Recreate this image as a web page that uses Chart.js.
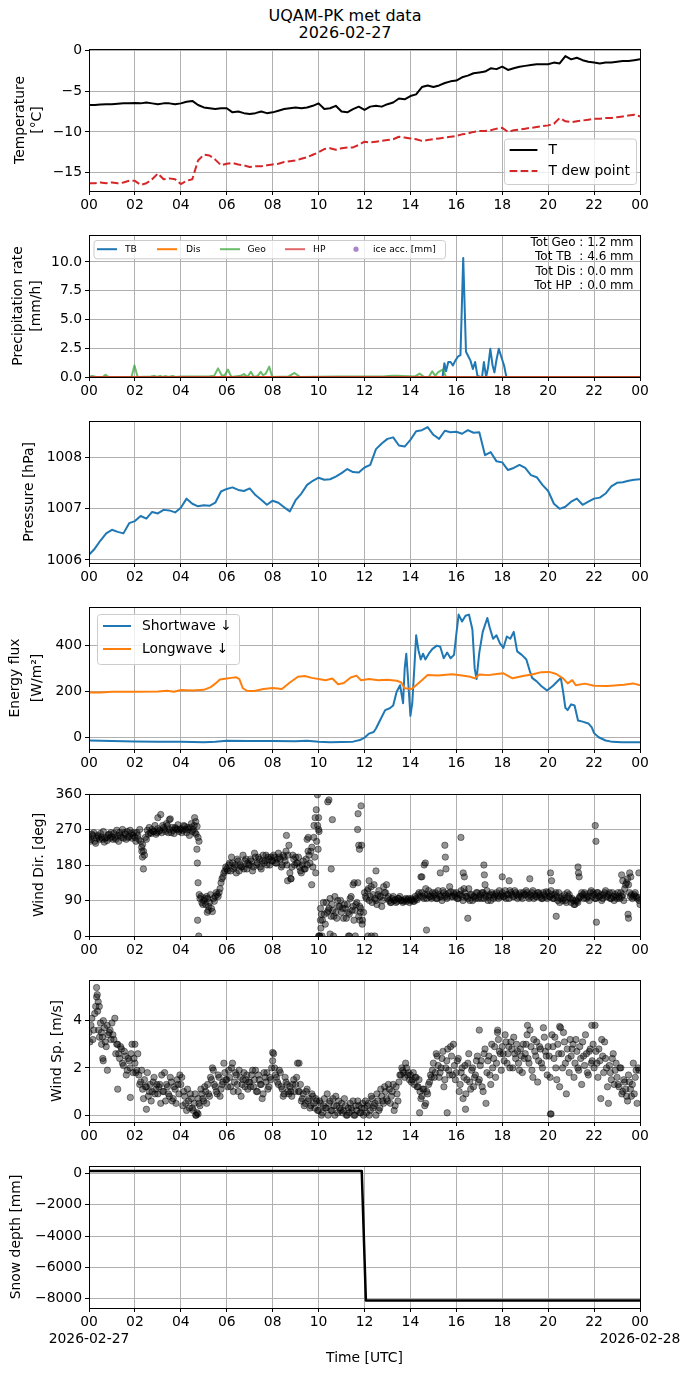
<!DOCTYPE html>
<html><head><meta charset="utf-8">
<script src="https://cdn.jsdelivr.net/npm/chart.js@4.4.1/dist/chart.umd.min.js"></script>
<style>
html,body{margin:0;padding:0;background:#fff;}
body{width:690px;height:1377px;position:relative;overflow:hidden;font-family:"DejaVu Sans";}
.ttl{position:absolute;left:0;width:690px;text-align:center;font:16px "DejaVu Sans";color:#000;line-height:18px;white-space:pre;}
</style></head>
<body>
<div class="ttl" style="top:6.7px">UQAM-PK met data</div>
<div class="ttl" style="top:24.3px">2026-02-27</div>
<script>
// ===================== DATA =====================
const dateStart = '2026-02-27';
const dateEnd = '2026-02-28';
const STEP_H = 0.25; // 15-min sampling of the line series below
const hourTicks = [0,2,4,6,8,10,12,14,16,18,20,22,24];
const tempTicks = [-15,-10,-5,0];
const precipTicks = [0,2.5,5,7.5,10];
const pressTicks = [1006,1007,1008];
const fluxTicks = [0,200,400];
const dirTicks = [0,90,180,270,360];
const speedTicks = [0,2,4];
const snowTicks = [-8000,-6000,-4000,-2000,0];

const tempC = [
 -6.7,-6.7,-6.65,-6.6, -6.6,-6.55,-6.5,-6.5, -6.45,-6.5,-6.4,-6.5, -6.6,-6.5,-6.5,-6.6,
 -6.5,-6.3,-6.2,-6.7, -7.0,-7.1,-7.2,-7.1, -7.1,-7.6,-7.5,-7.7, -7.8,-7.7,-7.5,-7.7,
 -7.6,-7.4,-7.2,-7.1, -7.0,-7.1,-7.0,-6.8, -6.5,-7.2,-7.1,-6.8, -7.5,-7.6,-7.2,-6.9,
 -7.3,-6.9,-6.8,-6.9, -6.6,-6.4,-5.9,-6.0, -5.6,-5.4,-4.5,-4.3, -4.5,-4.3,-4.0,-3.8,
 -3.7,-3.3,-3.1,-2.8, -2.7,-2.6,-2.2,-2.3, -2.0,-2.4,-2.2,-2.0, -1.9,-1.8,-1.7,-1.7,
 -1.7,-1.5,-1.6,-0.7, -1.1,-0.9,-1.2,-1.4, -1.5,-1.6,-1.5,-1.5, -1.4,-1.3,-1.3,-1.2, -1.1];
const dewPointC = [
 -16.3,-16.3,-16.2,-16.3, -16.2,-16.3,-16.2,-16.0, -16.0,-16.5,-16.3,-15.8, -15.1,-15.8,-15.7,-15.8,
 -16.4,-16.0,-15.8,-13.5, -12.8,-12.9,-13.4,-14.1, -13.9,-13.8,-14.0,-14.1, -14.3,-14.2,-14.2,-14.1,
 -14.0,-13.9,-13.7,-13.6, -13.5,-13.3,-13.1,-12.8, -12.5,-12.1,-12.0,-12.2, -12.0,-11.9,-11.9,-11.6,
 -11.2,-11.3,-11.2,-11.1, -11.0,-10.9,-10.6,-10.7, -10.8,-10.9,-11.1,-11.0, -10.9,-10.8,-10.7,-10.6,
 -10.5,-10.3,-10.2,-10.0, -9.9,-9.9,-9.8,-9.6, -9.5,-10.0,-9.8,-9.7, -9.6,-9.5,-9.4,-9.3,
 -9.2,-9.0,-8.3,-8.7, -8.8,-8.7,-8.6,-8.5, -8.4,-8.4,-8.3,-8.3, -8.2,-8.1,-8.0,-7.9, -8.1];
const pressureHPa = [
 1006.10,1006.22,1006.38,1006.52, 1006.59,1006.55,1006.52,1006.72, 1006.76,1006.86,1006.81,1006.94,
 1006.91,1006.98,1006.97,1006.93, 1007.02,1007.20,1007.10,1007.05, 1007.07,1007.06,1007.12,1007.34,
 1007.39,1007.42,1007.37,1007.35, 1007.40,1007.27,1007.18,1007.08, 1007.16,1007.12,1007.03,1006.95,
 1007.17,1007.30,1007.47,1007.55, 1007.61,1007.57,1007.58,1007.63, 1007.70,1007.78,1007.72,1007.71,
 1007.81,1007.86,1008.17,1008.28, 1008.37,1008.40,1008.24,1008.22, 1008.35,1008.52,1008.54,1008.60,
 1008.45,1008.37,1008.53,1008.50, 1008.51,1008.47,1008.54,1008.49, 1008.50,1008.05,1008.11,1007.93,
 1007.91,1007.76,1007.80,1007.86, 1007.80,1007.66,1007.62,1007.47, 1007.35,1007.10,1007.00,1007.04,
 1007.14,1007.20,1007.08,1007.14, 1007.20,1007.22,1007.30,1007.44, 1007.51,1007.52,1007.55,1007.57, 1007.58];

// precipitation rate [mm/h]
const tbHours = [0,15.40,15.48,15.55,15.65,15.75,15.85,15.95,16.08,16.18,16.30,16.42,16.52,16.62,16.72,16.82,16.92,17.05,17.12,17.20,17.30,17.38,17.48,17.58,17.66,17.75,17.85,17.95,18.08,18.18,24];
const tbRate  = [0,0,1.2,0.5,1.3,1.3,1.0,1.4,1.8,1.9,10.35,2.2,1.8,1.4,0.7,1.3,0.1,0,0,1.3,0,0.8,2.45,1.0,0.4,1.5,2.45,1.8,1.0,0,0];
const disHours = [0,24];
const disRate  = [0,0];
const geoHours = [0,0.15,0.30,0.60,0.72,0.85,1.85,1.98,2.12,2.70,2.85,2.95,3.10,3.20,3.35,3.45,3.65,3.75,4.05,4.30,
  5.20,5.45,5.62,5.78,5.90,6.05,6.20,6.60,6.75,6.90,7.05,7.18,7.35,7.48,7.58,7.70,7.85,7.98,8.70,8.95,
  9.20,10.80,11.50,12.20,12.80,13.20,13.40,14.20,14.40,14.60,14.80,14.95,15.08,15.20,15.32,15.42,15.55,24];
const geoRate = [0.05,0.08,0,0,0.2,0,0,1.0,0,0.05,0.1,0,0.1,0,0.08,0,0.1,0,0.05,0.05,
  0.05,0.1,0.75,0.15,0.1,0.65,0,0.1,0.25,0,0.45,0,0.1,0.45,0.15,0.3,0.9,0,0.05,0.35,
  0,0.05,0.05,0.05,0.05,0.1,0.1,0.05,0.3,0,0,0.5,0.1,0.4,0.55,0.65,0,0];
const hpHours = [0,24];
const hpRate  = [0,0];
const precipTotals = ['Tot Geo : 1.2 mm','Tot TB  : 4.6 mm','Tot Dis : 0.0 mm','Tot HP  : 0.0 mm'];

// radiation [W/m2]
const swHours = [0,1,2,3,4,5,5.5,6,7,8,9,9.5,10,10.5,11,11.5,11.8,12,12.2,12.4,12.5,12.7,12.9,13.1,13.25,13.4,13.55,13.68,13.75,13.82,
  13.9,14.0,14.08,14.18,14.25,14.35,14.45,14.55,14.65,14.8,14.95,15.15,15.3,15.45,15.6,15.75,15.9,16.0,16.1,16.25,
  16.4,16.55,16.7,16.8,16.88,17.0,17.15,17.35,17.45,17.6,17.75,17.9,18.05,18.2,18.35,18.5,18.65,18.85,19.05,19.2,
  19.3,19.5,19.7,19.95,20.2,20.45,20.55,20.65,20.75,20.85,21.0,21.15,21.3,21.5,21.75,21.9,22.0,22.2,22.5,22.8,23.2,24];
const swWm2 = [-12,-14,-16,-17,-17,-20,-18,-13,-14,-14,-15,-13,-18,-20,-19,-17,-10,0,18,25,40,80,120,128,140,200,228,150,300,365,
  250,95,150,320,445,380,340,365,340,365,385,400,395,345,370,345,360,450,535,505,
  530,535,470,300,255,370,460,520,480,430,445,410,390,440,430,460,375,360,340,290,
  260,245,225,205,225,250,260,200,130,120,145,140,75,70,62,45,20,2,-12,-18,-20,-20];
const lwHours = [0,0.5,1,2,3,3.4,3.7,4,4.5,5,5.3,5.5,5.7,6,6.2,6.4,6.55,6.7,6.9,7.2,7.6,8,8.4,8.75,9.1,9.4,9.7,10,10.3,10.6,
  10.85,11.1,11.4,11.65,11.85,12.2,12.6,13,13.4,13.6,13.75,14.05,14.25,14.5,14.75,15.2,15.8,16.25,16.6,16.8,
  17,17.4,17.75,18.05,18.45,18.9,19.3,19.7,20.05,20.35,20.65,20.85,21.05,21.2,21.6,22,22.6,23.3,23.7,24];
const lwWm2 = [196,197,200,200,201,204,200,207,205,208,220,235,253,257,260,263,255,215,203,203,212,216,212,240,265,268,260,255,250,257,
  232,238,262,270,250,255,250,252,248,240,215,212,228,250,272,270,276,270,265,258,
  275,272,277,280,258,268,275,285,286,277,258,236,250,228,235,226,225,230,236,228];

// wind direction [deg], two interleaved 5-min series + isolated points
const windDirA = [
 250,245,255,240,248,252,260,245,238,250,256,248, 252,260,245,255,262,250,248,258,265,252,260,255,
 250,262,245,240,232,205,245,258,262,270,265,258, 272,268,262,275,265,280,270,262,268,275,270,265,
 272,268,278,262,270,275,265,280,258,250,95,85,   90,80,95,85,70,95,100,105,110,135,150,165,
 170,180,165,185,175,160,190,180,175,170,195,185, 180,190,175,200,185,195,170,205,190,180,195,200,
 190,200,185,210,195,180,200,215,205,160,175,195, 200,185,175,160,190,170,180,205,215,175,200,240,
 300,70,40,55,85,65,95,80,50,60,90,75,            60,45,70,80,55,100,75,65,85,50,70,40,
 110,95,120,100,85,130,90,105,100,75,125,110,     95,90,85,100,92,88,95,90,85,92,88,95,
 90,92,88,95,105,100,110,95,120,105,100,95,       100,110,95,105,100,115,100,95,108,112,100,105,
 110,95,105,100,120,100,95,90,105,100,95,110,     100,95,110,105,115,100,90,105,100,110,95,100,
 110,100,95,105,115,105,100,110,95,105,100,110,   105,110,95,100,115,105,100,110,100,95,105,112,
 110,100,105,95,110,90,85,100,95,90,110,105,      85,90,80,88,95,100,105,110,95,100,110,100,
 105,95,110,100,90,105,115,100,110,95,100,105,    95,100,110,105,120,135,130,100,95,105,100,98];
const windDirB = [
 240,258,262,235,255,245,250,265,248,242,258,262, 245,250,268,240,255,270,262,245,250,268,248,262,
 240,255,270,225,215,250,268,275,260,265,280,262, 265,308,280,270,285,262,297,275,260,272,282,270,
 262,280,270,275,255,285,270,262,278,240,100,80,  95,100,75,105,62,88,110,100,120,145,160,175,
 165,185,200,170,180,195,165,175,205,190,170,180, 195,165,210,180,200,175,190,185,205,200,180,190,
 205,185,195,200,175,205,190,180,230,145,205,180, 185,200,165,180,170,195,215,185,225,250,160,280,
 0,55,85,30,60,70,50,65,100,45,75,90,             70,80,45,60,95,65,40,80,135,75,230,60,
 100,115,90,125,105,95,80,115,100,90,110,130,     100,85,95,90,85,95,100,90,88,95,92,85,
 95,88,100,92,110,150,100,105,95,115,100,110,     105,95,115,100,90,110,105,100,125,100,110,100,
 95,105,115,90,110,100,120,105,90,100,110,95,     105,110,95,100,90,105,110,95,105,100,115,105,
 100,115,105,95,110,100,115,105,100,110,95,105,   115,100,105,110,95,100,110,105,95,110,100,95,
 100,115,95,105,100,110,95,90,105,85,100,95,      95,80,90,85,100,110,95,105,100,90,115,110,
 95,110,100,105,95,110,100,105,95,110,90,100,     110,95,100,90,130,145,110,105,100,110,95,90];
const dirExtraHours = [2.33,2.37,2.30,3.00,3.50,4.60,4.65,4.70,4.72,4.75,4.73,4.78,4.80,5.15,5.20,8.60,8.65,8.80,9.50,9.55,
  9.70,9.80,9.85,9.90,9.95,10.00,10.02,9.98,10.00,10.05,10.15,10.10,10.08,10.40,10.45,10.60,10.55,10.50,10.65,11.30,
  11.35,11.50,11.55,11.70,11.72,11.75,11.78,11.85,11.80,11.82,11.90,11.60,12.15,12.30,12.45,12.50,12.20,14.50,14.60,14.65,
  14.70,15.50,15.52,15.55,15.30,16.20,16.30,16.35,16.50,17.20,17.22,17.25,18.00,18.30,19.20,20.10,20.15,20.35,21.30,21.32,
  21.35,22.05,22.08,22.10,23.20,23.25,23.55,23.60,23.48,23.50,24.00,23.95];
const dirExtraDeg = [200,170,215,300,295,300,290,220,185,135,40,0,105,60,65,255,140,145,245,250,
  130,280,300,320,358,270,265,220,0,0,0,20,40,340,345,295,170,5,0,0,
  0,130,135,270,310,230,220,330,40,60,30,0,0,0,0,165,140,150,180,185,
  15,230,200,170,160,250,160,150,45,180,155,130,150,140,145,160,140,50,175,160,
  150,280,240,35,155,140,160,150,55,45,80,160];

// wind speed [m/s]
const windSpA = [
 3.5,3.8,3.2,4.3,5.0,3.6,3.9,3.3,3.7,2.9,3.4,3.6, 3.9,3.2,2.6,3.0,2.4,2.8,2.1,2.5,1.9,2.3,2.6,1.8,
 2.2,1.9,1.7,1.4,1.1,1.5,1.2,0.8,1.3,1.0,1.6,1.1, 0.9,1.3,1.7,1.0,0.6,1.2,0.8,1.4,0.7,1.1,1.5,0.9,
 1.3,0.4,0.8,0.2,0.6,0.9,0.3,0.5,0.0,0.7,0.4,0.9, 0.6,1.0,1.3,0.8,1.5,1.9,1.2,0.9,1.6,1.1,1.4,1.8,
 1.5,1.9,1.2,2.2,1.4,1.7,1.0,1.6,1.3,1.8,1.5,1.1, 1.4,1.7,1.2,1.9,1.0,1.5,1.3,0.9,1.6,1.8,1.2,1.5,
 2.3,2.0,1.6,1.3,1.8,1.1,0.9,1.4,1.0,1.2,0.8,1.5, 1.3,2.2,1.0,0.6,0.9,0.5,1.1,0.7,0.4,0.8,0.3,0.6,
 0.2,0.5,0.1,0.7,0.3,0.0,0.6,0.2,0.4,0.8,0.1,0.3, 0.5,0.2,0.4,0.0,0.1,0.3,0.6,0.0,0.2,0.4,0.1,0.5,
 0.3,0.1,0.5,0.2,0.7,0.4,0.0,0.6,0.3,0.8,0.5,1.0, 0.6,1.1,0.8,1.3,0.4,0.9,1.4,1.7,1.9,1.6,2.0,1.8,
 1.7,1.5,1.3,1.6,1.2,1.0,0.8,1.1,0.5,0.9,1.4,1.6, 2.2,1.8,2.5,1.6,2.0,2.7,1.5,2.3,1.9,2.9,1.7,2.1,
 1.8,2.4,1.3,2.0,1.6,0.9,2.2,1.4,1.9,1.2,1.7,2.5, 1.5,2.3,1.0,2.8,1.8,2.5,1.3,2.0,2.9,2.2,3.2,2.6,
 2.9,2.3,3.1,2.6,2.0,2.8,3.3,2.4,2.7,1.9,2.5,3.0, 2.6,3.4,2.2,2.9,1.6,2.7,3.1,2.3,2.8,2.0,3.3,2.5,
 2.9,1.6,3.4,2.4,2.0,3.0,1.2,2.6,3.5,2.2,2.8,1.8, 2.5,3.0,2.2,2.7,1.9,2.4,3.1,2.1,2.6,1.7,2.8,2.3,
 2.0,2.7,1.6,2.3,3.2,1.8,2.4,1.2,2.1,1.5,2.6,1.9, 1.6,1.2,2.0,1.0,1.4,0.8,1.7,1.1,1.3,0.9,1.9,2.0];
const windSpB = [
 3.1,4.1,3.6,4.6,4.4,3.3,3.5,4.0,3.1,3.8,3.5,3.2, 3.4,4.1,3.0,2.6,2.9,2.2,2.7,1.7,2.4,2.0,3.0,2.4,
 1.8,2.6,1.3,1.9,0.7,1.2,1.8,1.0,0.6,1.4,0.9,1.3, 1.2,0.5,1.0,1.8,1.3,0.9,1.6,0.6,1.2,0.5,1.3,1.7,
 1.6,1.0,0.5,1.1,0.3,0.7,0.2,0.9,0.1,0.5,1.1,0.7, 1.2,0.5,0.9,1.6,2.0,1.3,1.0,1.7,0.8,1.3,2.2,1.5,
 1.2,1.6,2.0,1.0,1.8,1.3,1.9,0.8,1.5,1.2,1.7,1.4, 1.2,1.9,1.5,1.0,1.7,1.3,0.7,1.8,1.4,1.1,1.6,2.0,
 2.6,1.7,1.4,1.9,1.2,0.8,1.6,1.3,0.9,1.0,1.3,1.0, 1.6,1.0,1.3,0.7,0.4,1.0,0.6,0.3,0.9,0.5,0.7,0.2,
 0.6,0.0,0.4,0.3,0.9,0.5,0.2,0.7,0.0,0.4,0.6,0.2, 0.1,0.7,0.0,0.3,0.5,0.2,0.0,0.4,0.6,0.1,0.3,0.0,
 0.6,0.4,0.0,0.8,0.3,0.5,0.9,0.2,1.1,0.6,1.2,0.7, 1.3,0.5,1.0,0.2,1.2,0.6,1.7,2.0,1.8,2.2,1.7,1.5,
 1.4,1.8,1.6,1.2,1.5,0.7,1.1,0.4,1.0,1.3,1.7,1.9, 1.6,2.6,2.1,1.8,2.4,1.2,2.0,2.8,1.7,2.5,3.0,1.5,
 2.3,1.0,1.8,0.7,2.1,1.5,2.6,1.1,2.0,1.6,2.3,1.4, 2.1,1.2,2.6,0.5,2.3,1.7,3.0,2.4,1.6,3.5,2.7,1.9,
 2.6,3.4,2.2,2.9,3.1,2.0,2.6,3.0,2.2,2.8,1.8,2.4, 3.0,2.4,3.6,1.9,3.2,2.5,1.4,2.9,2.2,3.7,2.7,1.7,
 2.5,0.05,2.9,3.3,1.5,2.6,3.7,2.0,3.1,0.9,2.4,3.2, 2.8,1.6,3.2,2.0,2.9,1.3,2.5,3.4,1.8,2.7,2.2,3.0,
 3.8,2.2,2.8,0.7,2.5,3.1,2.0,0.5,1.8,2.4,1.3,2.2, 1.3,2.0,0.9,1.5,1.1,0.6,1.4,0.8,2.2,1.6,0.5,1.9];
const spExtraHours = [0.33,0.36,0.40,0.45,0.55,0.60,0.62,0.80,1.25,1.80,2.00,2.50,4.65,4.75,8.00,9.15,14.40,15.60,16.40,17.00,17.80,19.10,20.10,20.50,21.90];
const spExtraMs    = [5.4,5.1,4.8,4.6,3.0,2.4,2.3,1.9,1.1,0.75,3.0,0.25,0.0,0.05,2.65,2.2,0.1,0.1,0.25,3.6,3.6,3.8,0.05,3.75,3.8];

// snow depth [mm]
const snowHours = [0,11.88,12.06,24];
const snowMm    = [170,170,-8130,-8130];

// ===================== LAYOUT / STYLE =====================
const PLOT_LEFT = 89, PLOT_RIGHT = 640, PLOT_H = 142, PADT = 20;
const GRID = '#b0b0b0';
const FS = 13.9;
Chart.defaults.font.family = '"DejaVu Sans"';
Chart.defaults.font.size = FS;
Chart.defaults.color = '#000';
Chart.defaults.animation = false;

const stepHours = (n) => Array.from({length:n}, (_, i) => i * STEP_H);
const pts = (xs, ys) => ys.map((y, i) => ({x: xs[i], y}));
const fiveMin = (offset, n) => Array.from({length:n}, (_, i) => i / 12 + offset);
const hh = v => String(Math.round(v) % 24).padStart(2, '0');
const uminus = v => String(v).replace('-', '\u2212');

function xAxis(last) {
  return {
    type: 'linear', min: 0, max: 24,
    afterBuildTicks(s) { s.ticks = hourTicks.map(v => ({value: v})); },
    ticks: {autoSkip: false, maxRotation: 0, minRotation: 0, padding: 2, color: '#000',
      font: {size: FS, lineHeight: 1.2},
      callback: v => {
        const l = hh(v);
        if (last && v === 0) return [l, dateStart];
        if (last && v === 24) return [l, dateEnd];
        return l;
      }},
    grid: {color: GRID, lineWidth: 1, tickColor: '#000', tickLength: 4, tickWidth: 1},
    border: {display: false},
    title: last ? {display: true, text: 'Time [UTC]', color: '#000', font: {size: FS}, padding: {top: 0, bottom: 3.7}} : {display: false},
    afterFit(s) { s.height = last ? 62 : 30; s.paddingLeft = 0; s.paddingRight = 0; }
  };
}
function yAxis(o) {
  return {
    type: 'linear', min: o.min, max: o.max,
    afterBuildTicks(s) { s.ticks = o.ticks.map(v => ({value: v})); },
    ticks: {autoSkip: false, padding: 3, color: '#000',
      font: {size: FS}, callback: o.fmt || (v => uminus(v))},
    grid: {color: GRID, lineWidth: 1, tickColor: '#000', tickLength: 4, tickWidth: 1},
    border: {display: false},
    title: {display: true, text: o.title, color: '#000', font: {size: FS, lineHeight: o.lh || 1.266},
      padding: {top: o.pad, bottom: 0}},
    afterFit(s) { s.width = PLOT_LEFT; s.paddingTop = 0; s.paddingBottom = 0; }
  };
}
const framePlugin = {
  id: 'frame',
  afterDatasetsDraw(chart) {
    const {ctx, chartArea: a} = chart;
    ctx.save();
    ctx.strokeStyle = '#000'; ctx.lineWidth = 1;
    ctx.strokeRect(Math.round(a.left) + 0.5, Math.round(a.top) + 0.5, Math.round(a.right - a.left), Math.round(a.bottom - a.top));
    ctx.restore();
  }
};
function legendPlugin(cfg, canvasTop) {
  return {
    id: 'boxLegend',
    afterDraw(chart) {
      const ctx = chart.ctx, oy = canvasTop;
      ctx.save();
      ctx.beginPath();
      ctx.roundRect(cfg.x + 0.5, cfg.y - oy + 0.5, cfg.w, cfg.h, 3);
      ctx.fillStyle = 'rgba(255,255,255,0.8)'; ctx.fill();
      ctx.strokeStyle = '#cccccc'; ctx.lineWidth = 1; ctx.stroke();
      ctx.font = cfg.fs + 'px "DejaVu Sans"';
      ctx.textBaseline = 'middle'; ctx.textAlign = 'left';
      for (const it of cfg.items) {
        const y = it.y - oy;
        if (it.kind === 'dot') {
          ctx.beginPath(); ctx.fillStyle = it.color; ctx.arc(it.x0, y, 2.6, 0, Math.PI * 2); ctx.fill();
        } else {
          ctx.beginPath(); ctx.setLineDash(it.dash || []); ctx.strokeStyle = it.color; ctx.lineWidth = 2;
          ctx.moveTo(it.x0, y); ctx.lineTo(it.x1, y); ctx.stroke(); ctx.setLineDash([]);
        }
        ctx.fillStyle = '#000';
        ctx.fillText(it.label, it.tx, y);
      }
      ctx.restore();
    }
  };
}
function textPlugin(lines, canvasTop) {
  return {
    id: 'totText',
    afterDraw(chart) {
      const ctx = chart.ctx;
      ctx.save();
      ctx.font = '12px "DejaVu Sans"'; ctx.fillStyle = '#000';
      ctx.textAlign = 'right'; ctx.textBaseline = 'middle';
      lines.forEach((l) => ctx.fillText(l.text, l.x, l.y - canvasTop));
      ctx.restore();
    }
  };
}
function panel(plotTop, last, datasets, yopts, extraPlugins, type) {
  const axisH = last ? 62 : 30;
  const c = document.createElement('canvas');
  const top = plotTop - PADT, h = PADT + PLOT_H + axisH;
  c.width = 690; c.height = h;
  c.style.cssText = 'position:absolute;left:0;top:' + top + 'px;width:690px;height:' + h + 'px;';
  document.body.appendChild(c);
  const plugins = [framePlugin].concat((extraPlugins || []).map(f => f(top)));
  return new Chart(c.getContext('2d'), {
    type: type || 'line',
    data: {datasets},
    options: {
      responsive: false, animation: false, events: [],
      layout: {padding: {top: PADT, right: 690 - PLOT_RIGHT, bottom: 0, left: 0}},
      plugins: {legend: {display: false}, tooltip: {enabled: false}, title: {display: false}},
      scales: {x: xAxis(last), y: yAxis(yopts)}
    },
    plugins
  });
}
const lineDs = (label, data, color, extra) => Object.assign({
  label, data, borderColor: color, backgroundColor: color, borderWidth: 2, pointRadius: 0,
  tension: 0, fill: false, borderJoinStyle: 'round', borderCapStyle: 'butt'}, extra || {});
const DOT = 'rgba(0,0,0,0.42)';
const scatDs = (data) => ({data, pointRadius: 3.2, pointBackgroundColor: DOT, pointBorderColor: DOT,
  pointBorderWidth: 1, showLine: false, backgroundColor: DOT, borderColor: DOT});

// ===================== PANELS =====================
const h15 = stepHours(tempC.length);

// 1 Temperature
panel(49, false, [
  lineDs('T', pts(h15, tempC), '#000000', {order: 2}),
  lineDs('T dew point', pts(h15, dewPointC), '#d62728', {order: 1, borderDash: [7.7, 3.3]})
], {min: -17.25, max: 0.17, ticks: tempTicks, title: ['Temperature', '[°C]'], pad: 11.2},
[top => legendPlugin({x: 504, y: 138.5, w: 132, h: 45.5, fs: FS, items: [
  {x0: 509.6, x1: 537.4, y: 150, color: '#000000', label: 'T', tx: 548.5},
  {x0: 509.6, x1: 537.4, y: 171, color: '#d62728', dash: [7.7, 3.3], label: 'T dew point', tx: 548.5}
]}, top)]);

// 2 Precipitation
panel(235, false, [
  lineDs('TB', pts(tbHours, tbRate), '#1f77b4', {order: 4}),
  lineDs('Dis', pts(disHours, disRate), '#ff7f0e', {order: 3}),
  lineDs('Geo', pts(geoHours, geoRate), 'rgba(44,160,44,0.7)', {order: 2}),
  lineDs('HP', pts(hpHours, hpRate), 'rgba(214,39,40,0.7)', {order: 1})
], {min: 0, max: 12.34, ticks: precipTicks, fmt: v => v.toFixed(1), title: ['Precipitation rate', '[mm/h]'], pad: 9.5},
[top => legendPlugin({x: 93.5, y: 240, w: 351.5, h: 18.3, fs: 9.2, items: [
  {x0: 97, x1: 117, y: 249.2, color: '#1f77b4', label: 'TB', tx: 125},
  {x0: 157, x1: 177, y: 249.2, color: '#ff7f0e', label: 'Dis', tx: 186},
  {x0: 220, x1: 240, y: 249.2, color: 'rgba(44,160,44,0.7)', label: 'Geo', tx: 247.5},
  {x0: 285, x1: 305, y: 249.2, color: 'rgba(214,39,40,0.7)', label: 'HP', tx: 313},
  {kind: 'dot', x0: 356, y: 249.2, color: 'rgba(148,103,189,0.8)', label: 'ice acc. [mm]', tx: 373}
]}, top),
 top => textPlugin(precipTotals.map((t, i) => ({text: t, x: 633.5, y: [243.3, 257.3, 271.7, 285.7][i]})), top)]);

// 3 Pressure
panel(421, false, [
  lineDs('P', pts(h15, pressureHPa), '#1f77b4')
], {min: 1005.94, max: 1008.72, ticks: pressTicks, fmt: v => String(Math.round(v)), title: 'Pressure [hPa]', pad: 20.2});

// 4 Energy flux
panel(607, false, [
  lineDs('Shortwave ↓', pts(swHours, swWm2), '#1f77b4', {order: 2}),
  lineDs('Longwave ↓', pts(lwHours, lwWm2), '#ff7f0e', {order: 1})
], {min: -49, max: 568, ticks: fluxTicks, title: ['Energy flux', '[W/m²]'], lh: 1.58, pad: 4.5},
[top => legendPlugin({x: 97, y: 614, w: 142, h: 50, fs: FS, items: [
  {x0: 103, x1: 131, y: 626, color: '#1f77b4', label: 'Shortwave ↓', tx: 142},
  {x0: 103, x1: 131, y: 649, color: '#ff7f0e', label: 'Longwave ↓', tx: 142}
]}, top)]);

// 5 Wind direction
panel(794, false, [
  scatDs(pts(fiveMin(0, windDirA.length), windDirA)),
  scatDs(pts(fiveMin(1 / 24, windDirB.length), windDirB)),
  scatDs(pts(dirExtraHours, dirExtraDeg))
], {min: 0, max: 360, ticks: dirTicks, title: 'Wind Dir. [deg]', pad: 30.2}, [], 'scatter');

// 6 Wind speed
panel(980, false, [
  scatDs(pts(fiveMin(0, windSpA.length), windSpA)),
  scatDs(pts(fiveMin(1 / 24, windSpB.length), windSpB)),
  scatDs(pts(spExtraHours, spExtraMs))
], {min: -0.29, max: 5.72, ticks: speedTicks, title: 'Wind Sp. [m/s]', pad: 48.7}, [], 'scatter');

// 7 Snow depth
panel(1166, true, [
  lineDs('Snow', pts(snowHours, snowMm), '#000000', {borderWidth: 2.5})
], {min: -8617, max: 490, ticks: snowTicks, title: 'Snow depth [mm]', pad: 8});
</script>
</body></html>
